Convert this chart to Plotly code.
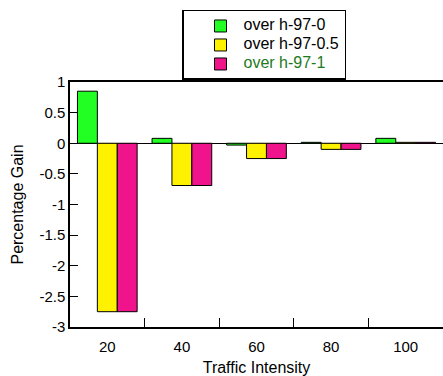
import plotly.graph_objects as go

categories = ["20", "40", "60", "80", "100"]
series_names = ["over h-97-0", "over h-97-0.5", "over h-97-1"]
vals_h0 = [0.85, 0.08, -0.03, 0.015, 0.08]
vals_h05 = [-2.75, -0.69, -0.25, -0.10, 0.015]
vals_h1 = [-2.75, -0.69, -0.25, -0.10, 0.015]
colors = ["#22ff22", "#fff200", "#f0148c"]
name_colors = ["black", "black", "#1e7a1e"]
ytick_vals = [-3, -2.5, -2, -1.5, -1, -0.5, 0, 0.5, 1]
ytick_text = ["-3", "-2.5", "-2", "-1.5", "-1", "-0.5", "0", "0.5", "1"]

FONT = "Liberation Sans, Arial, sans-serif"

fig = go.Figure()
for name, ncol, vals, col in zip(series_names, name_colors,
                                 [vals_h0, vals_h05, vals_h1], colors):
    label = "<span style='font-size:16px;color:%s'>%s</span>" % (ncol, name)
    fig.add_trace(go.Bar(x=categories, y=vals, name=label,
                         marker=dict(color=col, line=dict(color="black", width=1))))

fig.update_layout(
    width=443, height=376,
    margin=dict(l=70, r=0, t=82, b=49),
    paper_bgcolor="white", plot_bgcolor="white",
    font=dict(family=FONT, size=15, color="black"),
    barmode="group", bargap=0.2, bargroupgap=0,
    showlegend=True,
    legend=dict(x=0.3003, xanchor="left", y=1.294, yanchor="top",
                bordercolor="black", borderwidth=1.5, bgcolor="white",
                font=dict(family=FONT, size=11, color="black"),
                indentation=14, itemwidth=36, tracegroupgap=0),
    xaxis=dict(type="category", range=[-0.5, 4.5], showline=True, linecolor="black",
               linewidth=1.5, mirror=True, ticks="inside", ticklen=9, tickcolor="black",
               tickson="boundaries", showgrid=False, zeroline=False,
               ticklabelstandoff=5, tickfont=dict(family=FONT, size=15),
               title=dict(text="Traffic Intensity", standoff=9,
                          font=dict(family=FONT, size=16))),
    yaxis=dict(range=[-3, 1], showline=True, linecolor="black", linewidth=1.5,
               mirror=False, ticks="inside", ticklen=8, tickcolor="black",
               tickvals=ytick_vals, ticktext=ytick_text, showgrid=False,
               tickfont=dict(family=FONT, size=15),
               zeroline=True, zerolinecolor="black", zerolinewidth=1,
               title=dict(text="Percentage Gain", standoff=12,
                          font=dict(family=FONT, size=16))),
)

fig.write_html("out.html")
